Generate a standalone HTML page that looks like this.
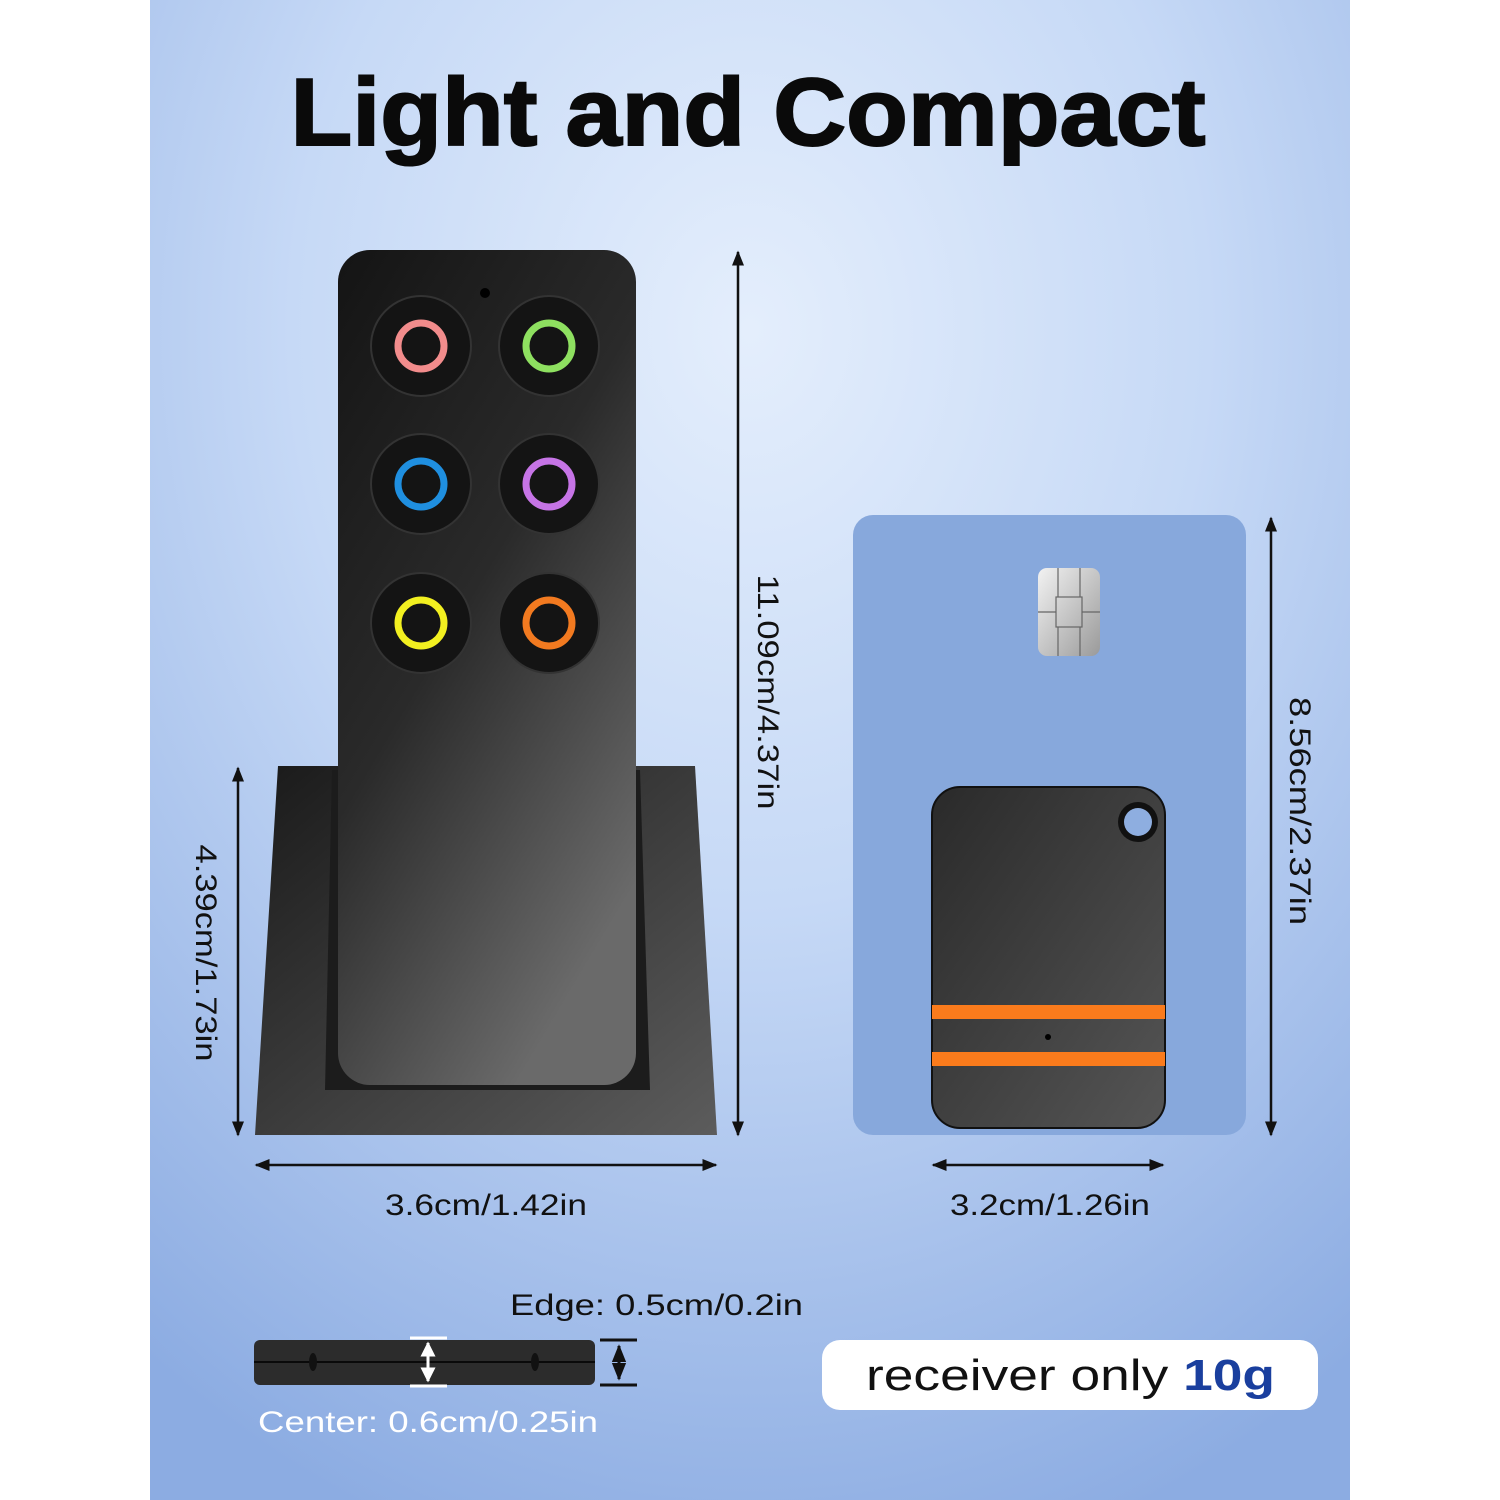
<!DOCTYPE html>
<html><head><style>
html,body{margin:0;padding:0;background:#fff}
svg{display:block}
text{font-family:"Liberation Sans",sans-serif}
</style></head><body>
<svg width="1500" height="1500" viewBox="0 0 1500 1500" xmlns="http://www.w3.org/2000/svg">
<defs>
<radialGradient id="bg" cx="0.5" cy="0.22" r="0.85">
<stop offset="0" stop-color="#e4eefc"/><stop offset="0.45" stop-color="#c6d9f6"/><stop offset="1" stop-color="#8cace2"/>
</radialGradient>
<linearGradient id="rem" x1="0" y1="0" x2="0.6" y2="1">
<stop offset="0" stop-color="#141414"/><stop offset="0.5" stop-color="#2a2a2a"/><stop offset="1" stop-color="#6a6a6a"/>
</linearGradient>
<linearGradient id="base" x1="0" y1="0" x2="1" y2="1">
<stop offset="0" stop-color="#1a1a1a"/><stop offset="1" stop-color="#5c5c5c"/>
</linearGradient>
<linearGradient id="tag" x1="0" y1="0" x2="1" y2="1">
<stop offset="0" stop-color="#2a2a2a"/><stop offset="1" stop-color="#555"/>
</linearGradient>
<linearGradient id="chip" x1="0" y1="0" x2="1" y2="1">
<stop offset="0" stop-color="#f2f2f2"/><stop offset="1" stop-color="#9a9a9a"/>
</linearGradient>
<marker id="a" viewBox="0 0 10 10" refX="9" refY="5" markerWidth="6" markerHeight="6" orient="auto-start-reverse"><path d="M0,1 L10,5 L0,9 z" fill="#111"/></marker>
<marker id="w" viewBox="0 0 10 10" refX="9" refY="5" markerWidth="5" markerHeight="5" orient="auto-start-reverse"><path d="M0,0 L10,5 L0,10 z" fill="#fff"/></marker>
</defs>
<rect x="150" y="0" width="1200" height="1500" fill="url(#bg)"/>
<text x="748" y="145" font-size="96" font-weight="bold" text-anchor="middle" textLength="915" lengthAdjust="spacingAndGlyphs" fill="#0a0a0a" stroke="#0a0a0a" stroke-width="2">Light and Compact</text>

<path d="M278,766 L695,766 L717,1135 L255,1135 Z" fill="url(#base)"/>
<path d="M332,770 L640,770 L650,1090 L325,1090 Z" fill="#1c1c1c"/>
<rect x="338" y="250" width="298" height="835" rx="32" fill="url(#rem)"/>
<circle cx="485" cy="293" r="5" fill="#000"/>
<g>
<circle cx="421" cy="346" r="50" fill="#141414" stroke="#333" stroke-width="2"/>
<circle cx="549" cy="346" r="50" fill="#141414" stroke="#333" stroke-width="2"/>
<circle cx="421" cy="484" r="50" fill="#141414" stroke="#333" stroke-width="2"/>
<circle cx="549" cy="484" r="50" fill="#141414" stroke="#333" stroke-width="2"/>
<circle cx="421" cy="623" r="50" fill="#141414" stroke="#333" stroke-width="2"/>
<circle cx="549" cy="623" r="50" fill="#141414" stroke="#333" stroke-width="2"/>
<g fill="none" stroke-width="7">
<circle cx="421" cy="346" r="23" stroke="#f28c8c"/>
<circle cx="549" cy="346" r="23" stroke="#8ee060"/>
<circle cx="421" cy="484" r="23" stroke="#1f8fe0"/>
<circle cx="549" cy="484" r="23" stroke="#c674e6"/>
<circle cx="421" cy="623" r="23" stroke="#f2f020"/>
<circle cx="549" cy="623" r="23" stroke="#f27a20"/>
</g></g>

<g stroke="#111" stroke-width="2.5">
<line x1="738" y1="252" x2="738" y2="1135" marker-start="url(#a)" marker-end="url(#a)"/>
<line x1="238" y1="768" x2="238" y2="1135" marker-start="url(#a)" marker-end="url(#a)"/>
<line x1="256" y1="1165" x2="716" y2="1165" marker-start="url(#a)" marker-end="url(#a)"/>
<line x1="1175" y1="788" x2="1175" y2="1127" marker-start="url(#a)" marker-end="url(#a)"/>
<line x1="1271" y1="518" x2="1271" y2="1135" marker-start="url(#a)" marker-end="url(#a)"/>
<line x1="933" y1="1165" x2="1163" y2="1165" marker-start="url(#a)" marker-end="url(#a)"/>
</g>
<g font-size="30" fill="#111" text-anchor="middle" lengthAdjust="spacingAndGlyphs">
<text transform="translate(758,692) rotate(90)" textLength="235" lengthAdjust="spacingAndGlyphs">11.09cm/4.37in</text>
<text transform="translate(196,953) rotate(90)" textLength="217" lengthAdjust="spacingAndGlyphs">4.39cm/1.73in</text>
<text x="486" y="1215" textLength="202" lengthAdjust="spacingAndGlyphs">3.6cm/1.42in</text>
<text transform="translate(1192,955) rotate(90)" textLength="205" lengthAdjust="spacingAndGlyphs">4.7cm/1.85in</text>
<text transform="translate(1290,811) rotate(90)" textLength="228" lengthAdjust="spacingAndGlyphs">8.56cm/2.37in</text>
<text x="1050" y="1215" textLength="200" lengthAdjust="spacingAndGlyphs">3.2cm/1.26in</text>
</g>

<rect x="853" y="515" width="393" height="620" rx="20" fill="#87a8dc"/>
<rect x="1038" y="568" width="62" height="88" rx="9" fill="url(#chip)"/>
<g stroke="#666" stroke-width="1.2" fill="none"><rect x="1056" y="597" width="26" height="30"/><line x1="1058" y1="568" x2="1058" y2="597"/><line x1="1080" y1="568" x2="1080" y2="597"/><line x1="1058" y1="627" x2="1058" y2="656"/><line x1="1080" y1="627" x2="1080" y2="656"/><line x1="1038" y1="612" x2="1056" y2="612"/><line x1="1082" y1="612" x2="1100" y2="612"/></g>
<rect x="932" y="787" width="233" height="341" rx="28" fill="url(#tag)" stroke="#111" stroke-width="2"/>
<circle cx="1138" cy="822" r="20" fill="#111"/>
<circle cx="1138" cy="822" r="14" fill="#8eaee0"/>
<rect x="932" y="1005" width="233" height="14" fill="#fa7b1c"/>
<rect x="932" y="1052" width="233" height="14" fill="#fa7b1c"/>
<circle cx="1048" cy="1037" r="3" fill="#000"/>

<text x="510" y="1315" font-size="30" fill="#111" textLength="293" lengthAdjust="spacingAndGlyphs">Edge: 0.5cm/0.2in</text>
<rect x="254" y="1340" width="341" height="45" rx="6" fill="#2c2c2c"/>
<line x1="254" y1="1362" x2="595" y2="1362" stroke="#0a0a0a" stroke-width="2"/>
<ellipse cx="313" cy="1362" rx="4" ry="9" fill="#111"/>
<ellipse cx="535" cy="1362" rx="4" ry="9" fill="#111"/>
<g stroke="#fff" stroke-width="3"><line x1="410" y1="1338" x2="447" y2="1338"/><line x1="410" y1="1386" x2="447" y2="1386"/><line x1="428" y1="1343" x2="428" y2="1381" marker-start="url(#w)" marker-end="url(#w)"/></g>
<g stroke="#111" stroke-width="3"><line x1="600" y1="1340" x2="637" y2="1340"/><line x1="600" y1="1385" x2="637" y2="1385"/><line x1="619" y1="1346" x2="619" y2="1379" marker-start="url(#a)" marker-end="url(#a)"/></g>
<text x="258" y="1432" font-size="30" fill="#fff" textLength="340" lengthAdjust="spacingAndGlyphs">Center: 0.6cm/0.25in</text>

<rect x="822" y="1340" width="496" height="70" rx="18" fill="#fff"/>
<text x="866" y="1390" font-size="44" fill="#111" textLength="409" lengthAdjust="spacingAndGlyphs">receiver only <tspan font-weight="bold" fill="#1a3f9e">10g</tspan></text>
</svg>
</body></html>
